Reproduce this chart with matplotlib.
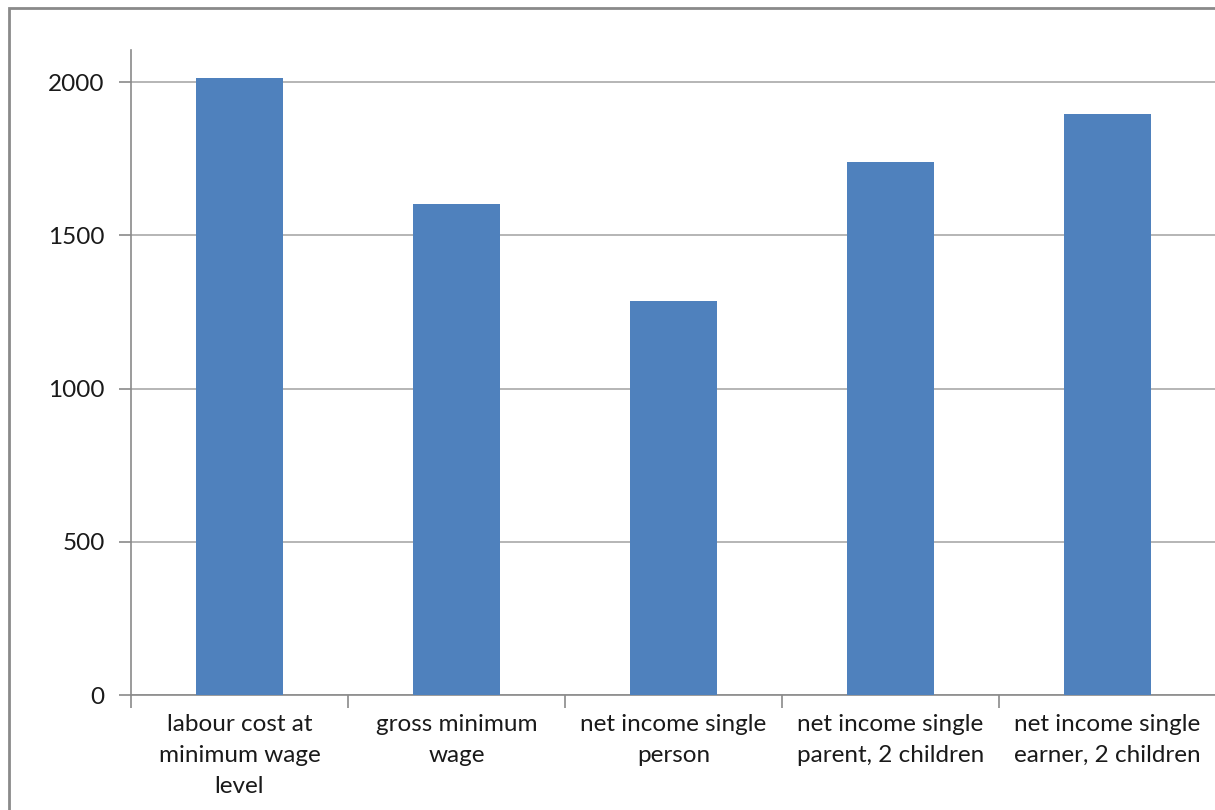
import numpy as np
import matplotlib.pyplot as plt
from matplotlib.patches import Rectangle

categories = [
    "labour cost at\nminimum wage\nlevel",
    "gross minimum\nwage",
    "net income single\nperson",
    "net income single\nparent, 2 children",
    "net income single\nearner, 2 children",
]
values = [2015, 1603, 1287, 1738, 1897]
y_ticks = [0, 500, 1000, 1500, 2000]

plt.rcParams['font.family'] = ['Lato', 'DejaVu Sans']

fig = plt.figure(figsize=(12.15, 8.1), dpi=100)
W, H = 1215, 810
ax = fig.add_axes([131 / W, 115 / H, 1085 / W, 645 / H])

# outer chart border
fig.patches.append(Rectangle((9 / W, -0.05), 1.2, (810 - 8) / H + 0.05,
                             transform=fig.transFigure, fill=False,
                             edgecolor='#8a8a8a', lw=2, clip_on=False))

x = np.arange(len(categories))
ax.bar(x, values, width=0.4, color='#4f81bd', zorder=3)

ax.set_xlim(-0.5, len(categories) - 0.5)
ax.set_ylim(0, 2105)
ax.set_yticks(y_ticks)
ax.set_yticklabels([str(v) for v in y_ticks], fontsize=17.5, color='#1a1a1a')
ax.yaxis.grid(True, color='#b0b0b0', lw=1.3, zorder=0)

ax.set_xticks(x)
ax.set_xticklabels(categories, fontsize=17.5, color='#1a1a1a', linespacing=1.58)
ax.tick_params(axis='x', which='major', length=0, pad=14)
ax.set_xticks(np.arange(len(categories) + 1) - 0.5, minor=True)
ax.tick_params(axis='x', which='minor', length=9, color='#8a8a8a', width=1.2)
ax.tick_params(axis='y', length=9, color='#8a8a8a', width=1.2, pad=10)

for side in ['top', 'right']:
    ax.spines[side].set_visible(False)
for side in ['left', 'bottom']:
    ax.spines[side].set_color('#8a8a8a')
    ax.spines[side].set_linewidth(1.2)

fig.savefig('out.png', dpi=100)
